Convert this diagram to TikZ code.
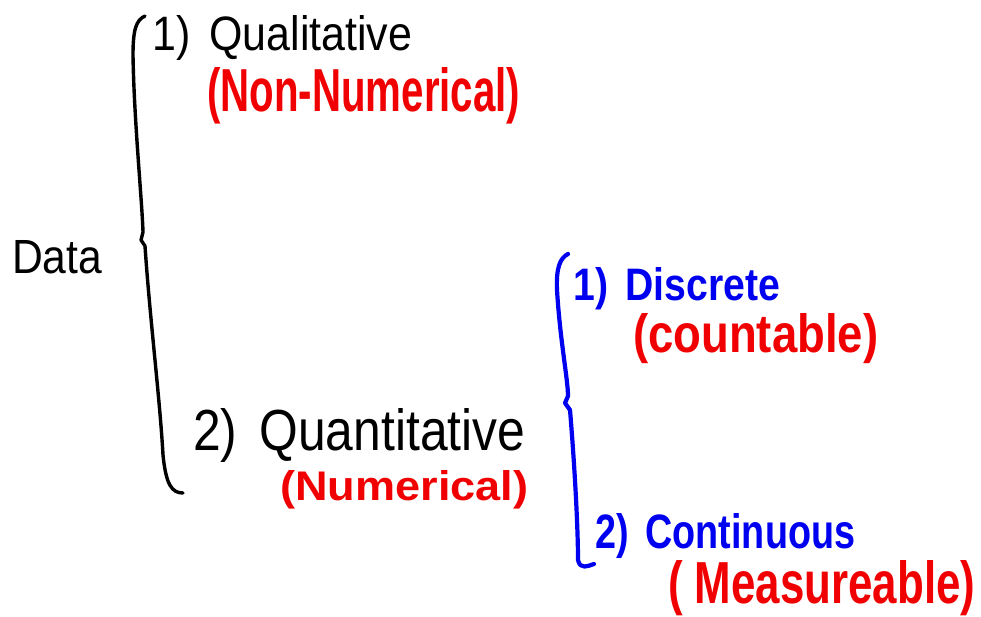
\documentclass[tikz,border=0pt]{standalone}
\usepackage{fontspec}
\setmainfont{Liberation Sans}
\definecolor{inkred}{RGB}{240,0,0}
\definecolor{inkblue}{RGB}{0,0,240}
\newcommand{\fitwh}[3]{\resizebox{#1pt}{#2pt}{#3}}
\begin{document}
\begin{tikzpicture}[x=1pt,y=-1pt,
  lbl/.style={inner sep=0pt,anchor=base west},
  blk/.style={lbl,text=black},
  red/.style={lbl,text=inkred,font=\bfseries},
  blu/.style={lbl,text=inkblue,font=\bfseries},
  bracepen/.style={line width=3.4pt,line cap=round,line join=round}]
\useasboundingbox[fill=white] (0,0) rectangle (981,617);
% texts
\node[blk] (data) at (12,274) {\fitwh{90}{33}{Data}};
\node[blk] (qual) at (152,51) {\fitwh{260}{35}{1)\, Qualitative}};
\node[red] (nonnum) at (207,112) {\fitwh{313}{44}{(Non-Numerical)}};
\node[blk] (quan) at (193,450) {\fitwh{332}{42}{2)\, Quantitative}};
\node[red] (num) at (280,500) {\fitwh{248}{30}{(Numerical)}};
\node[blu] (disc) at (573,300) {\fitwh{207}{33}{1)\, Discrete}};
\node[red] (count) at (633,352) {\fitwh{245}{39}{(countable)}};
\node[blu] (cont) at (595,548) {\fitwh{260}{35}{2)\, Continuous}};
\node[red] (meas) at (668,603) {\fitwh{307}{43}{( Measureable)}};
% black brace
\coordinate (bTop) at (145,16);
\coordinate (bNib) at (141,240);
\coordinate (bEnd) at (183,493);
\draw[bracepen] (bTop) .. controls (136,20) and (133,30) .. (133,55)
  .. controls (134,120) and (142,200) .. (143,232) -- (bNib) -- (145,246)
  .. controls (150,320) and (160,400) .. (163,455)
  .. controls (166,485) and (172,493) .. (bEnd);
% blue brace
\coordinate (uTop) at (568,254);
\coordinate (uNib) at (565,403);
\coordinate (uEnd) at (594,564);
\draw[bracepen,draw=inkblue,line width=4.2pt] (uTop) .. controls (560,258) and (556,268) .. (557,290)
  .. controls (560,340) and (568,380) .. (568,396) -- (uNib) -- (570,410)
  .. controls (575,470) and (578,530) .. (578,560)
  .. controls (580,570) and (588,566) .. (uEnd);
\end{tikzpicture}
\end{document}
